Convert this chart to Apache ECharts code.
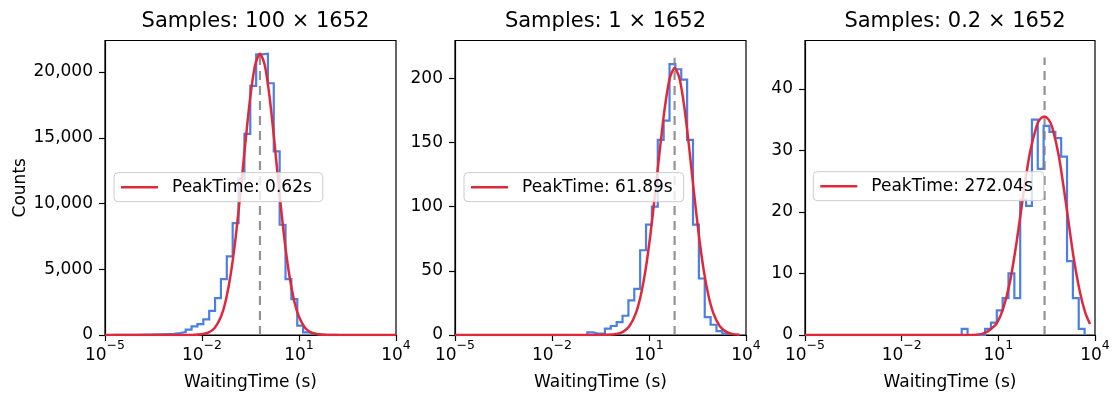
<!DOCTYPE html>
<html><head><meta charset="utf-8">
<script src="https://cdn.jsdelivr.net/npm/echarts@6/dist/echarts.min.js"></script>
<style>html,body{margin:0;padding:0;background:#fff}#c{width:1115px;height:396px}</style>
</head><body><div id="c"></div>
<script>
// ---------------- data ----------------
const titles = ['Samples: 100 \u00d7 1652', 'Samples: 1 \u00d7 1652', 'Samples: 0.2 \u00d7 1652'];
const peakTimes = [0.62, 61.89, 272.04];
const legendLabels = ['PeakTime: 0.62s', 'PeakTime: 61.89s', 'PeakTime: 272.04s'];
const xLabel = 'WaitingTime (s)';
const yLabel = 'Counts';
const xTickExponents = [-5, -2, 1, 4];
const yTicks1 = [0, 5000, 10000, 15000, 20000];
const yTicks2 = [0, 50, 100, 150, 200];
const yTicks3 = [0, 10, 20, 30, 40];
const yMaxes = [22400, 229.4, 47.86];
// histogram bins: log10 of first edge, common log10 bin width
const binStartExp = [-4.865, -0.908, -0.137];
const binWidthExp = 0.1816;
const counts1 = [3, 5, 8, 12, 20, 25, 35, 45, 55, 70, 90, 150, 228, 405, 660, 820,
  1190, 1840, 2810, 4255, 5980, 8510, 11900, 15300, 18950, 21350, 21400, 19150,
  13960, 8385, 4255, 2735, 710, 200, 80, 40, 20, 10, 5];
const counts2 = [2, 1, 1, 5, 7, 10, 15, 27, 36, 66, 86, 100, 152, 167, 211, 207, 199,
  152, 86, 44, 14, 8, 3, 1];
const counts3 = [1, 0, 0, 0, 1, 2, 4, 6, 10, 6, 22, 21, 35, 27, 34, 33, 32, 29, 12, 6, 1];
// fitted curves: [log10(time), counts]
const fit1 = [[-5, 0], [-2.708, 0], [-2.308, 5], [-2.008, 49], [-1.808, 175], [-1.608, 539],
  [-1.408, 1432], [-1.258, 2700], [-1.108, 4676], [-0.958, 7441], [-0.808, 10884],
  [-0.658, 14631], [-0.508, 18072], [-0.358, 20514], [-0.208, 21400], [-0.058, 20514],
  [0.092, 18072], [0.242, 14631], [0.392, 10884], [0.542, 7441], [0.692, 4676],
  [0.842, 2700], [0.992, 1432], [1.192, 539], [1.392, 175], [1.592, 49], [1.892, 5],
  [2.292, 0], [4, 0]];
const fit2 = [[-5, 0], [-0.708, 0], [-0.308, 0.1], [-0.008, 0.7], [0.192, 2.4], [0.392, 6.8],
  [0.592, 16.8], [0.742, 30.3], [0.892, 50.5], [1.042, 77.9], [1.192, 110.9], [1.342, 146],
  [1.492, 177.7], [1.642, 200], [1.792, 208], [1.942, 200], [2.092, 177.7], [2.242, 146],
  [2.392, 110.9], [2.542, 77.9], [2.692, 50.5], [2.842, 30.3], [2.992, 16.8], [3.192, 6.8],
  [3.392, 2.4], [3.592, 0.7], [3.8, 0.2]];
const fit3 = [[-5, 0], [0.0, 0], [0.4, 0.1], [0.6, 0.4], [0.75, 0.9], [0.95, 1.9], [1.15, 4.3],
  [1.36, 8.6], [1.57, 15.2], [1.78, 23.0], [1.98, 29.6], [2.19, 34.0], [2.3, 35.1],
  [2.435, 35.5], [2.56, 35.0], [2.67, 33.8], [2.88, 29.0], [3.12, 20.6], [3.33, 12.8],
  [3.535, 6.9], [3.7, 3.6], [3.845, 1.8]];
const dashTops = [21300, 216, 45.1];

// ---------------- build ----------------
const FONT = 'DejaVu Sans';
const BLUE = '#4a7fe3';
const RED = '#e0283a';
const GRAY = 'rgba(128,128,128,0.85)';
const counts = [counts1, counts2, counts3];
const fits = [fit1, fit2, fit3];
const yTicks = [yTicks1, yTicks2, yTicks3];
const gridLefts = [105, 455, 805];
const gridWidths = [291, 291, 290];
const legendPos = [[114, 172.7], [464, 172.7], [813.3, 171.7]];

function stepPoints(start, w, c) {
  const pts = [[start, 0]];
  for (let i = 0; i < c.length; i++) {
    pts.push([start + i * w, c[i]]);
    pts.push([start + (i + 1) * w, c[i]]);
  }
  pts.push([start + c.length * w, 0]);
  return pts;
}
const supFmt = v => {
  const e = Math.round(v);
  return '{b|10}{s|' + (e < 0 ? '\u2212' + Math.abs(e) : String(e)) + '}';
};

const option = {
  animation: false,
  backgroundColor: '#fff',
  title: [], grid: [], xAxis: [], yAxis: [], series: [], legend: []
};
for (let i = 0; i < 3; i++) {
  option.title.push({
    text: titles[i], left: gridLefts[i] + gridWidths[i] / 2, top: 6, textAlign: 'center',
    textStyle: { fontFamily: FONT, fontSize: 21, fontWeight: 'normal', color: '#000' }
  });
  option.grid.push({
    left: gridLefts[i], top: 40.5, width: gridWidths[i], height: 295,
    show: true, borderColor: '#000', borderWidth: 1.2, backgroundColor: 'transparent'
  });
  option.xAxis.push({
    gridIndex: i, type: 'value', min: -5, max: 4, interval: 3,
    axisLine: { show: true, onZero: false, lineStyle: { color: '#000', width: 1.2 } },
    axisTick: { show: true, length: 6, lineStyle: { color: '#000', width: 1.2 }, customValues: xTickExponents },
    splitLine: { show: false },
    axisLabel: {
      customValues: xTickExponents, margin: 4, formatter: supFmt, color: '#000',
      rich: {
        b: { fontFamily: FONT, fontSize: 17, color: '#000', padding: [8, 0, 0, 0], verticalAlign: 'bottom' },
        s: { fontFamily: FONT, fontSize: 12.5, color: '#000', lineHeight: 14, verticalAlign: 'top' }
      }
    },
    name: xLabel, nameLocation: 'middle', nameGap: 39,
    nameTextStyle: { fontFamily: FONT, fontSize: 17, color: '#000' }
  });
  const y = {
    gridIndex: i, type: 'value', min: 0, max: yMaxes[i],
    interval: yTicks[i][1] - yTicks[i][0],
    axisLine: { show: true, onZero: false, lineStyle: { color: '#000', width: 1.2 } },
    axisTick: { show: true, length: 6, lineStyle: { color: '#000', width: 1.2 }, customValues: yTicks[i] },
    splitLine: { show: false },
    axisLabel: {
      customValues: yTicks[i], margin: 12, color: '#000', fontFamily: FONT, fontSize: 17,
      formatter: v => Number(v).toLocaleString('en-US')
    }
  };
  if (i === 0) {
    y.name = yLabel; y.nameLocation = 'middle'; y.nameGap = 76; y.nameRotate = 90;
    y.nameTextStyle = { fontFamily: FONT, fontSize: 17, color: '#000' };
  }
  option.yAxis.push(y);

  option.series.push({
    type: 'line', xAxisIndex: i, yAxisIndex: i, silent: true,
    data: stepPoints(binStartExp[i], binWidthExp, counts[i]),
    showSymbol: false, symbol: 'none', z: 2,
    lineStyle: { color: BLUE, width: 2.2, join: 'miter' }
  });
  const px = Math.log10(peakTimes[i]);
  option.series.push({
    type: 'line', xAxisIndex: i, yAxisIndex: i, silent: true,
    data: [[px, 0], [px, dashTops[i]]],
    showSymbol: false, symbol: 'none', z: 3,
    lineStyle: { color: GRAY, width: 2.2, type: [9, 6] }
  });
  option.series.push({
    name: legendLabels[i], type: 'line', xAxisIndex: i, yAxisIndex: i, silent: true,
    data: fits[i], smooth: 0.25, showSymbol: false, symbol: 'none', z: 4,
    color: RED, itemStyle: { color: RED },
    lineStyle: { color: RED, width: 2.5 }
  });
  option.legend.push({
    data: [legendLabels[i]], left: legendPos[i][0], top: legendPos[i][1],
    selectedMode: false, icon: 'rect', itemWidth: 37, itemHeight: 2.5,
    padding: [6, 11, 6, 7], backgroundColor: 'rgba(255,255,255,0.8)',
    borderColor: '#cccccc', borderWidth: 1, borderRadius: 4, z: 10,
    textStyle: { fontFamily: FONT, fontSize: 17, color: '#000', padding: [0, 0, 0, 9] }
  });
}
const chart = echarts.init(document.getElementById('c'), null, { renderer: 'canvas' });
chart.setOption(option);
</script></body></html>
